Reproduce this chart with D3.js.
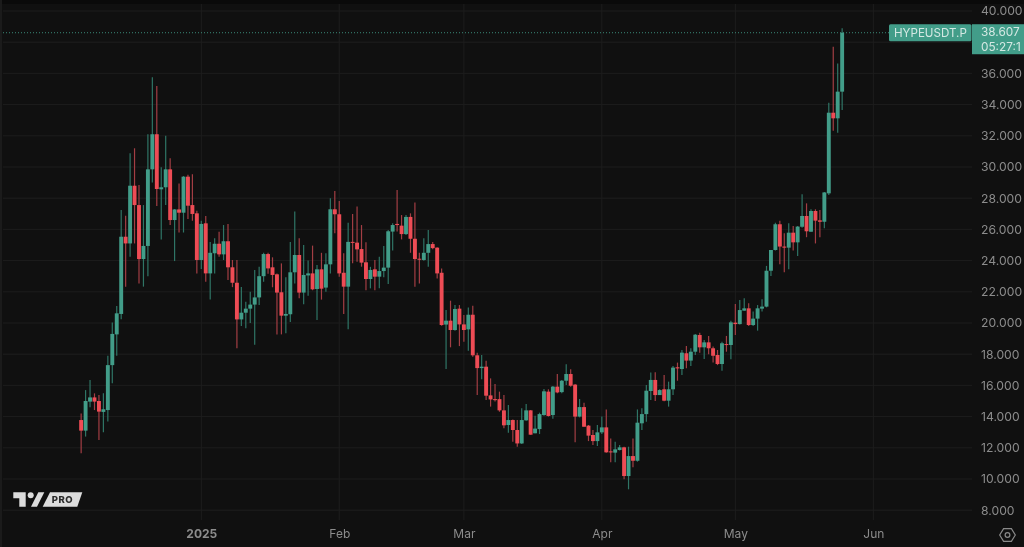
<!DOCTYPE html>
<html><head><meta charset="utf-8">
<script src="https://d3js.org/d3.v7.min.js"></script>
<style>
html,body{margin:0;padding:0;background:#101010;overflow:hidden}
svg{display:block;font-family:Inter,"Noto Sans",sans-serif;filter:blur(0.4px)}
</style></head><body>
<svg id="chart" width="1024" height="547"></svg>
<script>
const firstDay = "2024-12-05";
const priceTicks = [8,10,12,14,16,18,20,22,24,26,28,30,32,34,36,40];
const timeTicks = ["2025-01-01","2025-02-01","2025-03-01","2025-04-01","2025-05-01","2025-06-01"];
const timeLabels = ["2025","Feb","Mar","Apr","May","Jun"];
const symbol = "HYPEUSDT.P";
const lastPrice = 38.607;
const countdown = "05:27:1";

const opens = [
13.78,13.10,14.96,15.23,15.00,14.30,14.42,17.30,19.27,20.58,
25.53,25.10,28.80,27.56,24.10,24.94,29.85,32.10,28.57,28.70,
29.85,26.60,27.28,27.07,29.38,27.56,27.03,24.04,26.39,23.18,
24.47,25.08,24.40,25.24,23.57,22.58,20.23,20.66,20.92,21.18,
21.64,23.00,24.42,23.57,23.12,21.97,20.47,20.56,23.25,24.36,
21.95,23.05,23.18,22.18,23.44,22.27,23.76,27.29,26.97,23.22,
22.33,25.20,25.15,24.74,23.89,22.82,23.44,22.97,23.33,23.55,
25.86,26.35,26.24,25.70,26.80,25.40,24.12,24.04,24.50,25.06,
24.83,23.22,19.90,20.15,19.55,20.92,19.91,19.59,20.53,17.93,
17.11,17.20,15.36,15.12,15.12,14.40,13.46,13.78,13.14,12.28,
13.76,14.40,12.93,13.20,14.10,15.60,14.10,15.92,15.57,16.30,
16.73,16.05,14.00,14.61,13.42,12.82,12.43,12.99,13.31,11.77,
11.69,11.86,12.03,10.19,11.47,11.17,13.57,14.16,15.64,16.35,
15.38,15.75,15.02,15.75,17.16,17.05,18.06,17.59,18.16,19.23,
18.44,18.76,18.38,17.95,17.37,18.65,18.59,20.02,19.93,20.79,
20.94,19.87,20.28,20.92,21.05,23.35,24.68,26.33,24.90,24.83,
25.79,25.17,26.17,26.86,25.85,27.18,26.58,26.49,28.31,33.48,
33.12,34.83];
const closes = [
13.10,15.00,15.23,14.96,14.32,14.47,17.30,19.30,20.62,25.53,
25.10,28.80,27.56,24.10,24.94,29.85,32.10,28.59,28.70,29.85,
26.60,27.28,27.07,29.38,27.52,26.99,24.04,26.35,23.18,24.50,
25.08,24.40,25.24,23.57,22.58,20.23,20.66,20.92,21.18,21.64,
23.00,24.42,23.50,23.08,21.95,20.47,20.58,23.25,24.36,21.95,
23.08,23.18,22.16,23.44,22.20,23.76,27.29,26.97,23.18,22.33,
25.20,25.15,24.72,23.87,22.82,23.40,22.97,23.33,23.55,25.88,
26.28,26.28,25.70,26.80,25.40,24.10,24.08,24.50,25.06,24.80,
23.18,19.87,20.15,19.55,20.90,19.91,19.55,20.53,17.93,17.11,
17.20,15.34,15.10,15.06,14.40,13.44,13.78,13.14,12.28,13.78,
14.40,12.84,13.23,14.16,15.62,14.04,15.92,15.55,16.30,16.73,
15.98,14.00,14.61,13.35,12.78,12.43,12.99,13.31,11.71,11.75,
11.90,12.03,10.19,11.47,11.17,13.61,14.16,15.66,16.35,15.38,
15.70,15.02,15.75,17.14,17.09,18.10,17.59,18.16,19.25,18.44,
18.76,18.38,17.90,17.37,18.70,18.61,20.04,19.93,20.83,20.94,
19.87,20.28,20.94,21.05,23.35,24.68,26.33,24.90,24.83,25.79,
25.17,26.18,26.86,25.88,27.18,26.56,26.49,28.37,33.48,33.12,
34.83,38.607];
const highs = [
14.20,15.70,16.35,15.49,15.38,15.50,17.90,20.04,21.09,27.24,
26.88,30.88,31.20,28.85,27.56,32.10,35.75,35.19,29.98,32.00,
30.56,27.30,28.95,29.42,29.50,29.53,27.20,26.56,26.86,25.20,
25.43,25.85,26.28,26.35,24.04,24.04,22.30,21.37,22.00,23.40,
23.60,24.50,24.50,24.21,23.18,23.82,22.93,25.20,27.14,25.43,
25.00,24.00,24.96,23.72,24.50,24.47,28.00,28.46,27.82,24.47,
26.43,26.99,27.46,26.28,25.17,23.60,24.04,24.25,24.93,25.96,
26.39,28.53,26.92,26.92,27.03,27.73,24.51,25.43,25.96,25.20,
24.85,23.50,20.83,21.43,21.15,21.15,20.51,21.00,21.11,18.10,
17.95,17.58,16.45,16.09,15.60,15.38,14.74,13.82,13.78,14.53,
14.81,14.42,14.06,14.25,15.77,15.75,15.96,16.73,16.34,17.35,
17.03,16.09,15.13,14.89,13.46,13.14,13.46,14.00,14.46,12.60,
12.39,12.18,12.07,12.07,12.60,14.46,14.53,16.02,16.82,16.84,
15.75,16.67,16.24,17.24,17.46,18.27,18.53,18.38,19.29,19.38,
18.91,19.17,18.50,18.27,18.80,19.17,20.15,21.22,21.47,21.58,
21.26,20.73,21.15,21.52,23.66,24.68,26.43,26.56,25.75,26.39,
26.22,26.22,28.25,27.67,27.29,27.29,27.25,28.40,34.12,37.71,
36.64,38.89];
const lows = [
11.65,12.72,14.60,14.42,12.50,13.00,13.68,16.13,17.90,20.24,
22.33,24.25,25.10,22.54,22.33,23.00,29.00,27.50,25.36,27.56,
26.28,23.97,25.80,25.80,26.67,26.56,23.18,23.46,22.65,21.50,
23.18,24.25,24.04,22.76,22.30,18.38,19.80,19.66,20.00,18.60,
21.15,22.65,23.15,22.29,19.27,19.27,19.34,20.07,22.54,21.58,
21.20,21.75,22.10,20.20,21.50,22.00,23.18,25.75,22.97,20.58,
19.60,23.83,23.93,23.61,22.10,22.22,22.10,22.22,22.93,22.50,
24.64,25.86,25.36,25.64,24.50,22.33,22.54,23.99,23.61,24.72,
22.86,19.83,17.05,18.44,19.50,18.52,18.80,18.22,17.84,15.38,
16.39,15.06,14.64,14.96,14.31,13.25,12.97,12.39,12.07,12.24,
13.74,12.84,12.93,12.88,14.06,14.00,13.87,15.49,15.49,16.02,
15.92,12.35,13.95,13.35,12.43,12.18,12.11,12.88,11.69,11.07,
11.07,11.82,9.98,9.34,10.75,11.11,13.14,13.67,15.06,15.00,
15.38,14.99,14.64,15.38,16.30,16.67,17.10,17.24,17.95,18.10,
17.69,18.00,17.46,17.30,16.94,18.16,17.67,19.23,19.91,20.79,
19.80,19.80,19.51,20.73,21.00,23.01,24.64,23.76,23.25,23.44,
24.64,24.30,26.11,25.50,25.85,25.10,25.49,26.07,28.20,32.33,
32.20,33.65];

const colors = {bg:"#101010", grid:"#1d1d1d", axis:"#8c8c8c", up:"#429d89", down:"#ee4c55",
  upWick:"#2f7566", downWick:"#a33e44", tag:"#429d89", tagText:"#d4e8e3", logo:"#dcdcdc"};

const svg = d3.select("#chart");
const W = 1024, H = 547, paneR = 972, paneB = 520;
const parse = d3.utcParse("%Y-%m-%d");

const y = d3.scaleLinear().domain([8,40]).range([510.2,11]);
const x = d3.scaleUtc().domain([parse("2025-01-01"),parse("2025-06-01")]).range([201.3,873.3]);

const start = parse(firstDay);
const candles = opens.map((o,i)=>({date:d3.utcDay.offset(start,i),o,c:closes[i],h:highs[i],l:lows[i]}));

svg.append("rect").attr("width",W).attr("height",H).attr("fill",colors.bg);
svg.append("rect").attr("width",W).attr("height",4).attr("fill","#0a0a0a");
svg.append("rect").attr("x",0).attr("y",0).attr("width",2).attr("height",H).attr("fill","#1b1b1b");

// grid
const grid = svg.append("g");
grid.selectAll(".h").data(priceTicks.concat([38])).join("line")
  .attr("x1",3).attr("x2",paneR).attr("y1",d=>y(d)).attr("y2",d=>y(d))
  .attr("stroke",colors.grid);
grid.selectAll(".v").data(timeTicks).join("line")
  .attr("x1",d=>x(parse(d))).attr("x2",d=>x(parse(d))).attr("y1",4).attr("y2",paneB)
  .attr("stroke",colors.grid);

// last price line
svg.append("line").attr("x1",3).attr("x2",889).attr("y1",y(lastPrice)).attr("y2",y(lastPrice))
  .attr("stroke",colors.up).attr("stroke-width",1).attr("stroke-dasharray","1 2").attr("opacity",.85);

// candles
const g = svg.append("g");
const bodyW = 3.9;
g.selectAll(".wick").data(candles).join("line")
  .attr("x1",d=>x(d.date)).attr("x2",d=>x(d.date))
  .attr("y1",d=>y(d.h)).attr("y2",d=>y(d.l))
  .attr("stroke",d=>d.c>=d.o?colors.upWick:colors.downWick).attr("stroke-width",1.2);
g.selectAll(".body").data(candles).join("rect")
  .attr("x",d=>x(d.date)-bodyW/2).attr("width",bodyW)
  .attr("y",d=>y(Math.max(d.o,d.c)))
  .attr("height",d=>Math.max(1,Math.abs(y(d.o)-y(d.c))))
  .attr("fill",d=>d.c>=d.o?colors.up:colors.down);

// axes
const yAxis = d3.axisRight(y).tickValues(priceTicks).tickFormat(d3.format(".3f")).tickSize(0).tickPadding(0);
const yG = svg.append("g").attr("transform","translate(981,0)").call(yAxis);
yG.select(".domain").remove();
yG.selectAll("text").attr("fill",colors.axis).attr("font-size",12.2).attr("font-family","Inter");

const xAxis = d3.axisBottom(x).tickValues(timeTicks.map(parse))
  .tickFormat((d,i)=>timeLabels[i]).tickSize(0).tickPadding(0);
const xG = svg.append("g").attr("transform","translate(0,529)").call(xAxis);
xG.select(".domain").remove();
xG.selectAll("text").attr("fill",colors.axis).attr("font-size",12).attr("font-family","Inter")
  .attr("font-weight",(d,i)=>i===0?700:400);

// symbol + price tags
const ly = y(lastPrice);
svg.append("rect").attr("x",889).attr("y",ly-8.5).attr("width",82.5).attr("height",17).attr("rx",1.5).attr("fill",colors.tag);
svg.append("text").attr("x",894).attr("y",ly+4.2).attr("fill",colors.tagText).attr("font-size",11.6).text(symbol);
svg.append("rect").attr("x",972).attr("y",ly-8.5).attr("width",52).attr("height",30).attr("fill",colors.tag);
svg.append("text").attr("x",981).attr("y",ly+3.6).attr("fill",colors.tagText).attr("font-size",11.8).text(d3.format(".3f")(lastPrice));
svg.append("text").attr("x",981).attr("y",ly+18).attr("fill",colors.tagText).attr("font-size",11.8).text(countdown);

// logo
const logo = svg.append("g").attr("fill",colors.logo);
logo.append("path").attr("d","M13.3 492.3H25.7V506.7H19.3V498.3H13.3Z");
logo.append("circle").attr("cx",30.7).attr("cy",495.3).attr("r",3);
logo.append("path").attr("d","M38.3 492.3H44.3L37 506.7H31Z");
logo.append("path").attr("d","M50 492.3H82.3L77.3 506.7H42.7Z");
svg.append("text").attr("x",51.7).attr("y",503).attr("fill","#2a2a2a").attr("font-size",9.5)
  .attr("font-weight",800).attr("letter-spacing",.6).text("PRO");

// settings hex icon
const hex = d3.range(6).map(i=>{const a=Math.PI/3*i;return [1007.5+7.8*Math.cos(a),535+7.4*Math.sin(a)];});
svg.append("path").attr("d",d3.line().curve(d3.curveLinearClosed)(hex))
  .attr("fill","none").attr("stroke","#8a8a8a").attr("stroke-width",1.2);
svg.append("circle").attr("cx",1007.5).attr("cy",535).attr("r",2.4).attr("fill","none").attr("stroke","#8a8a8a").attr("stroke-width",1.2);
</script>
</body></html>
